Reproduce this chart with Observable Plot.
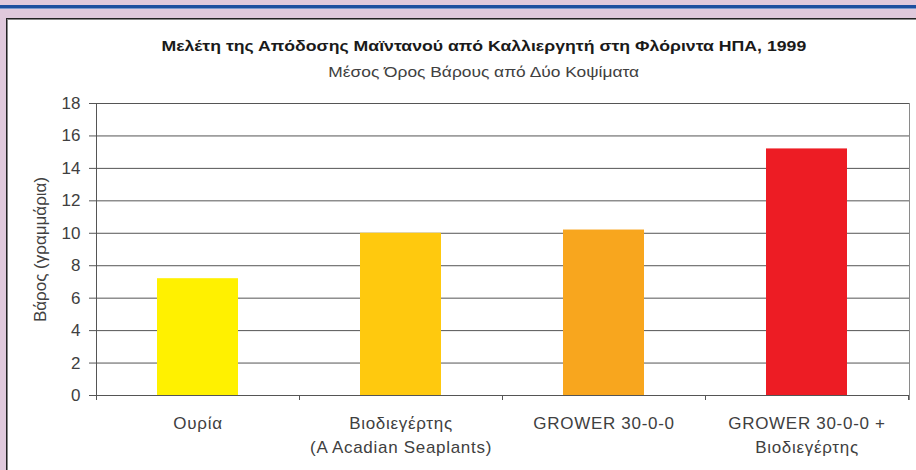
<!DOCTYPE html>
<html>
<head>
<meta charset="utf-8">
<script src="https://cdn.jsdelivr.net/npm/d3@7"></script>
<script src="https://cdn.jsdelivr.net/npm/@observablehq/plot@0.6"></script>
<style>
  html, body { margin: 0; padding: 0; }
  body { width: 916px; height: 470px; overflow: hidden; background: #e0c9dc; position: relative; font-family: "Liberation Sans", Arial, sans-serif; }
  #stripe { position: absolute; left: 0; top: 5px; width: 916px; height: 3px; background: #1d4f9f; border-bottom: 1px solid #7a98cc; }
  #panel { position: absolute; left: 6px; top: 18px; width: 940px; height: 470px; background: #fff; border-left: 1px solid #222; border-top: 1px solid #222; box-shadow: inset 1px 1px 0 #888; }
  .head { position: absolute; left: 0; width: 968px; text-align: center; white-space: nowrap; }
  .head span { display: inline-block; transform-origin: 50% 50%; }
  #title { top: 38px; font-size: 15.5px; line-height: 15.5px; font-weight: bold; color: #1a1a1a; }
  #title span { transform: scaleX(1.14); }
  #subtitle { top: 64px; font-size: 15.5px; line-height: 15.5px; color: #404040; }
  #subtitle span { transform: scaleX(1.12); }
  #chart { position: absolute; left: 0; top: 0; }
</style>
</head>
<body>
<div id="stripe"></div>
<div id="panel"></div>
<div id="title" class="head"><span></span></div>
<div id="subtitle" class="head"><span></span></div>
<div id="chart"></div>
<script>
const titleText = "Μελέτη της Απόδοσης Μαϊντανού από Καλλιεργητή στη Φλόριντα ΗΠΑ, 1999";
const subtitleText = "Μέσος Όρος Βάρους από Δύο Κοψίματα";
const yLabel = "Βάρος (γραμμάρια)";
const categories = ["Ουρία", "Βιοδιεγέρτης (A Acadian Seaplants)", "GROWER 30-0-0", "GROWER 30-0-0 + Βιοδιεγέρτης"];
const categoryLabels = ["Ουρία", "Βιοδιεγέρτης\n(A Acadian Seaplants)", "GROWER 30-0-0", "GROWER 30-0-0 +\nΒιοδιεγέρτης"];
const values = [7.2, 10.0, 10.2, 15.2];
const barColors = ["#fff100", "#ffc90e", "#f8a61e", "#ed1c24"];
const yTicks = [0, 2, 4, 6, 8, 10, 12, 14, 16, 18];

document.querySelector("#title span").textContent = titleText;
document.querySelector("#subtitle span").textContent = subtitleText;

const data = categories.map((c, i) => ({category: c, label: categoryLabels[i], value: values[i], color: barColors[i]}));

function frameMark(index, scales, channels, dimensions) {
  const x = scales.x, y = scales.y;
  const step = x(categories[1]) - x(categories[0]);
  const bw = typeof x.bandwidth === "function" ? x.bandwidth() : step * 0.4;
  const x0 = x(categories[0]) - (step - bw) / 2;
  const y0 = y(0), yTop = y(18);
  const right = dimensions.width - dimensions.marginRight;
  const g = d3.create("svg:g").attr("fill", "none");
  g.append("line").attr("x1", right + 0.5).attr("x2", right + 0.5).attr("y1", yTop).attr("y2", y0 + 5).attr("stroke", "#8a8a8a");
  g.append("line").attr("x1", x0).attr("x2", right).attr("y1", y0 + 0.5).attr("y2", y0 + 0.5).attr("stroke", "#555");
  for (let i = 0; i <= categories.length; i++) {
    const bx = Math.round(x0 + i * step) + 0.5;
    g.append("line").attr("x1", bx).attr("x2", bx).attr("y1", y0).attr("y2", y0 + 5).attr("stroke", "#555");
  }
  g.append("line").attr("x1", x0 + 0.5).attr("x2", x0 + 0.5).attr("y1", yTop).attr("y2", y0 + 5).attr("stroke", "#555");
  return g.node();
}

const chart = Plot.plot({
  width: 916,
  height: 470,
  marginTop: 103,
  marginBottom: 75,
  marginLeft: 96,
  marginRight: 7,
  style: {background: "transparent", fontFamily: "'Liberation Sans', Arial, sans-serif", fontSize: "17px", color: "#404040"},
  x: {domain: categories, paddingInner: 0.6, paddingOuter: 0.3, axis: null},
  y: {domain: [0, 18], axis: null},
  color: {type: "identity"},
  marks: [
    Plot.gridY(yTicks, {stroke: "#555", strokeOpacity: 1}),
    Plot.axisY(yTicks, {tickSize: 7, tickPadding: 9, stroke: "#555", fill: "#404040", fontSize: 17, label: null}),
    Plot.barY(data, {x: "category", y: "value", fill: "color"}),
    frameMark,
    Plot.text(data, {x: "category", text: "label", frameAnchor: "bottom", lineAnchor: "top", dy: 17, lineHeight: 1.38, fill: "#404040", fontSize: 17}),
    Plot.text([yLabel], {text: d => d, frameAnchor: "left", textAnchor: "middle", rotate: -90, dx: -56, fill: "#404040", fontSize: 17})
  ]
});
document.getElementById("chart").appendChild(chart);
// widen category label spacing slightly, as in the reference
d3.select(chart).selectAll("text").filter(function() {
  return this.querySelector("tspan") || categoryLabels.includes(this.textContent);
}).attr("letter-spacing", "0.7px");
</script>
</body>
</html>
